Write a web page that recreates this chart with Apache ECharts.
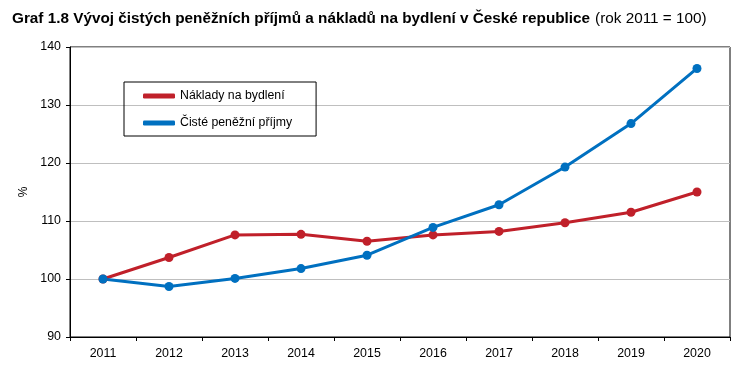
<!DOCTYPE html>
<html><head><meta charset="utf-8">
<script src="https://cdn.jsdelivr.net/npm/echarts@6/dist/echarts.min.js"></script>
<style>html,body{margin:0;padding:0;background:#fff}#c{width:749px;height:374px}</style>
</head><body><div id="c"></div>
<script>
const years = ['2011','2012','2013','2014','2015','2016','2017','2018','2019','2020'];
const naklady = [100, 103.7, 107.6, 107.7, 106.5, 107.6, 108.2, 109.7, 111.5, 115.0];
const prijmy = [100, 98.7, 100.1, 101.8, 104.1, 108.9, 112.8, 119.3, 126.8, 136.3];
const seriesNames = ['Náklady na bydlení', 'Čisté peněžní příjmy'];
const font = '"Liberation Sans", Arial, sans-serif';
const chart = echarts.init(document.getElementById('c'));
chart.setOption({
  animation: false,
  title: {
    left: 12, top: 10, padding: 0,
    text: '{b|Graf 1.8 Vývoj čistých peněžních příjmů a nákladů na bydlení v České republice} {n|(rok 2011 = 100)}',
    textStyle: {
      rich: {
        b: {fontFamily: font, fontSize: 15.3, fontWeight: 'bold', color: '#000'},
        n: {fontFamily: font, fontSize: 15.3, fontWeight: 'normal', color: '#000'}
      }
    }
  },
  legend: {
    orient: 'vertical', left: 124, top: 82,
    borderColor: '#000', borderWidth: 1,
    padding: [7, 24, 6, 19],
    icon: 'roundRect',
    itemWidth: 32, itemHeight: 5, itemGap: 13,
    textStyle: {fontFamily: font, fontSize: 12.3, color: '#000', lineHeight: 14},
    data: seriesNames
  },
  grid: {left: 70, right: 19, top: 47, bottom: 37, show: true, borderColor: '#000', borderWidth: 1},
  xAxis: {
    type: 'category', data: years, boundaryGap: true,
    axisLine: {lineStyle: {color: '#000'}},
    axisTick: {show: true, inside: false, length: 4, lineStyle: {color: '#000'}},
    axisLabel: {fontFamily: font, fontSize: 12.4, color: '#000', margin: 11}
  },
  yAxis: {
    type: 'value', min: 90, max: 140, interval: 10,
    name: '%', nameLocation: 'middle', nameRotate: 90, nameGap: 37,
    nameTextStyle: {fontFamily: font, fontSize: 12, color: '#000'},
    axisLine: {show: true, lineStyle: {color: '#000'}},
    axisTick: {show: true, length: 4, lineStyle: {color: '#000'}},
    axisLabel: {fontFamily: font, fontSize: 12.4, color: '#000', margin: 9},
    splitLine: {lineStyle: {color: '#bfbfbf'}}
  },
  series: [
    {name: seriesNames[0], type: 'line', data: naklady, symbol: 'circle', symbolSize: 9,
     itemStyle: {color: '#c0202a'}, lineStyle: {width: 3, color: '#c0202a'}},
    {name: seriesNames[1], type: 'line', data: prijmy, symbol: 'circle', symbolSize: 9,
     itemStyle: {color: '#0070c0'}, lineStyle: {width: 3, color: '#0070c0'}}
  ]
});
</script></body></html>
